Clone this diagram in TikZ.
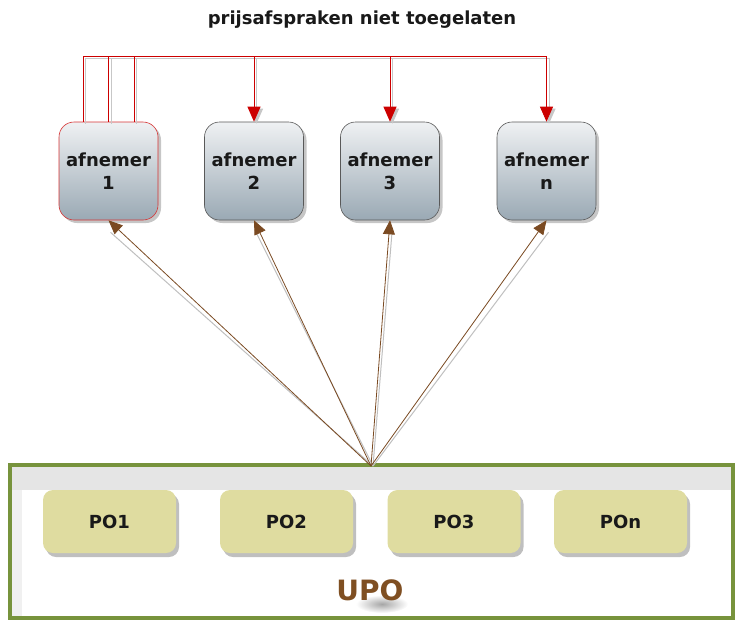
\documentclass[tikz,border=0pt]{standalone}
\usepackage{fontspec}
\setmainfont{DejaVu Sans}
\usetikzlibrary{shadows,arrows.meta,calc}
\definecolor{redline}{HTML}{CC0000}
\definecolor{brownarr}{HTML}{7A4A22}
\definecolor{upogreen}{HTML}{77933C}
\definecolor{pofill}{HTML}{DFDCA0}
\definecolor{boxtop}{HTML}{EFF1F3}
\definecolor{boxbot}{HTML}{9AA9B4}
\definecolor{upotext}{HTML}{7F4F22}
\tikzset{
  afbox/.style={rectangle, rounded corners=15pt, minimum width=99pt, minimum height=98pt,
    draw=gray!70!black, line width=0.6pt, top color=boxtop, bottom color=boxbot,
    drop shadow={shadow xshift=3pt, shadow yshift=-3pt, opacity=0.45},
    align=center, font=\fontsize{18}{23}\selectfont\bfseries, text=black!90},
  pobox/.style={rectangle, rounded corners=10pt, minimum width=133pt, minimum height=63pt,
    fill=pofill, draw=none,
    drop shadow={shadow xshift=3pt, shadow yshift=-4pt, opacity=0.5},
    font=\fontsize{18}{20}\selectfont\bfseries, text=black!90},
  redarr/.style={draw=redline, line width=0.9pt, -{Triangle[length=15pt,width=13pt]}},
  redshadow/.style={draw=black!22, line width=1pt, -{Triangle[length=15pt,width=13pt]}},
  brownarrow/.style={draw=brownarr, line width=0.8pt, -{Triangle[length=14pt,width=12pt]}},
  brownshadow/.style={draw=black!25, line width=1pt},
}
\begin{document}
\begin{tikzpicture}[x=1pt,y=-1pt]
\useasboundingbox (0,0) rectangle (743,621);
% title
\node[font=\fontsize{18}{22}\selectfont\bfseries, text=black!90] (title) at (362,20) {prijsafspraken niet toegelaten};
% UPO container
\fill[gray!20] (12,467) rectangle (731,490);
\fill[gray!12] (12,490) rectangle (22,616);
\node[rectangle, draw=upogreen, line width=4pt, minimum width=723pt, minimum height=153pt, inner sep=0pt] (upo) at (371.5,541.5) {};
\coordinate (hub) at (371,466);
% PO boxes
\node[pobox] (p1) at (109.5,521.5) {PO1};
\node[pobox] (p2) at (286.5,521.5) {PO2};
\node[pobox] (p3) at (454,521.5) {PO3};
\node[pobox] (pn) at (620.5,521.5) {POn};
\shade[inner color=black!35, outer color=white] (382,604) ellipse [x radius=26pt, y radius=9pt];
\node[font=\fontsize{28}{30}\selectfont\bfseries, text=upotext] (upolabel) at (370,590) {UPO};
% afnemer boxes
\node[afbox, draw=redline!80] (a1) at (108.5,171) {afnemer\\1};
\node[afbox] (a2) at (254,171) {afnemer\\2};
\node[afbox] (a3) at (390,171) {afnemer\\3};
\node[afbox] (an) at (546.5,171) {afnemer\\n};
% top connectors
\coordinate (topline) at (0,56);
\foreach \dx/\tgt in {-25.5/an, 0/a3, 25.5/a2}{
  \draw[redshadow, transform canvas={xshift=2.5pt,yshift=-2pt}] ([xshift=\dx pt]a1.north) -- ([xshift=\dx pt]a1.north |- topline) -| (\tgt.north);
}
\foreach \dx/\tgt in {-25.5/an, 0/a3, 25.5/a2}{
  \draw[redarr] ([xshift=\dx pt]a1.north) -- ([xshift=\dx pt]a1.north |- topline) -| (\tgt.north);
}
% brown arrows
\foreach \tgt in {a1,a2,a3,an}{
  \draw[brownshadow, transform canvas={xshift=2pt}] (hub) -- ($(\tgt.south)+(0,12)$);
  \draw[brownarrow] (hub) -- (\tgt.south);
}
\end{tikzpicture}
\end{document}
